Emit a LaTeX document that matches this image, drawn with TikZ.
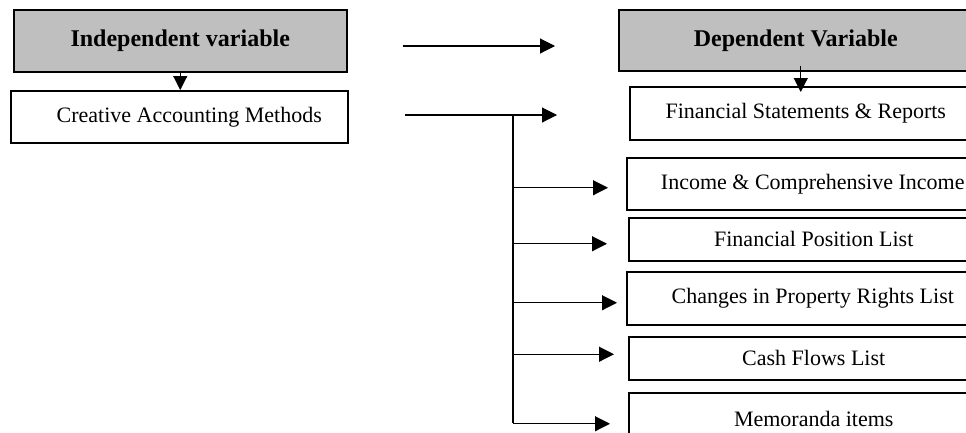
\documentclass[tikz,border=0pt]{standalone}
\usepackage{fontspec}
\setmainfont{Liberation Serif}
\usetikzlibrary{arrows.meta, calc}

\begin{document}
\begin{tikzpicture}[
x=1pt, y=-1pt,
  boks/.style = {rectangle, draw, line width=1.5pt, anchor=north west, inner sep=0pt,
                 font=\fontsize{22}{26}\selectfont},
  hode/.style = {boks, fill=gray!50, font=\fontsize{24}{28}\selectfont\bfseries},
   pil/.style = {black, line width=1.1pt, -{Triangle[length=15pt,width=15pt]}},
  lite/.style = {black, line width=1.1pt, -{Triangle[length=14pt,width=14pt]}},
  linje/.style = {black, line width=1.1pt}
                    ]
\path[use as bounding box, clip] (0,0) rectangle (966,432);

%nodes
\node[hode, minimum width=333pt, minimum height=62pt] (indep) at (13,9)  {Independent variable};
\node[boks, minimum width=337pt, minimum height=52pt] (cam)   at (10,90) {\hspace*{20pt}Creative Accounting Methods};

\node[hode, minimum width=354pt, minimum height=61pt] (dep)  at (618,9)   {Dependent Variable};
\node[boks, minimum width=352pt, minimum height=53pt] (fsr)  at (629,86)  {Financial Statements \& Reports};
\node[boks, minimum width=372pt, minimum height=52pt] (inc)  at (626,157) {Income \& Comprehensive Income};
\node[boks, minimum width=370pt, minimum height=43pt] (pos)  at (628,217) {Financial Position List};
\node[boks, minimum width=372pt, minimum height=53pt] (chg)  at (626,271) {Changes in Property Rights List};
\node[boks, minimum width=370pt, minimum height=43pt] (cash) at (628,336) {Cash Flows List};
\node[boks, minimum width=370pt, minimum height=52pt] (memo) at (628,392) {Memoranda items};

\coordinate (a1) at (403,46);
\coordinate (a2) at (555,46);
\coordinate (b1) at (405,115);
\coordinate (b2) at (557,115);
\coordinate (split) at (513,115);
\coordinate (bunn) at (513,423);

% edges
\draw[lite] (indep.south) -- (indep.south |- cam.north);
\draw[lite] ([xshift=5pt,yshift=6pt]dep.south) -- ([xshift=-5pt,yshift=-6pt]fsr.north);
\draw[pil] (a1) -- (a2);
\draw[pil] (b1) -- (b2);
\draw[linje] (split) -- (bunn);

\foreach \boks/\gap/\dy in {inc/18/-4, pos/21/-4.5, chg/9/-4.5, cash/14/4, memo/18/-5}
  \draw[pil] ($(split |- \boks.west)+(0,\dy pt)$) -- ($(\boks.west)+(-\gap pt,\dy pt)$);
\end{tikzpicture}
\end{document}
